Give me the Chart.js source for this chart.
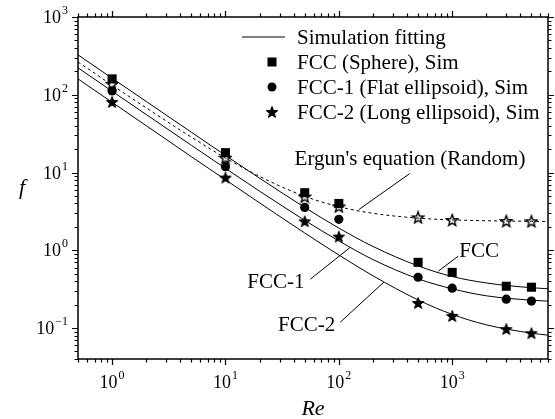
<!DOCTYPE html>
<html>
<head>
<meta charset="utf-8">
<script src="https://cdn.jsdelivr.net/npm/chart.js@4.4.1/dist/chart.umd.min.js"></script>
<style>
  html, body { margin: 0; padding: 0; background: #fff; }
  #wrap { width: 555px; height: 419px; }
</style>
</head>
<body>
<div id="wrap"><canvas id="chart" width="555" height="419"></canvas></div>
<script>
// Re values of the simulation points
const simRe = [1, 10, 50, 100, 500, 1000, 3000, 5000];
const fccSim = [160, 18, 5.5, 4.0, 0.70, 0.52, 0.345, 0.335];
const fcc1Sim = [112, 11.9, 3.56, 2.5, 0.45, 0.326, 0.235, 0.222];
const fcc2Sim = [81, 8.6, 2.36, 1.5, 0.21, 0.143, 0.097, 0.086];
const ergunPts = [138, 15.5, 4.9, 3.66, 2.65, 2.45, 2.38, 2.36];

// fitted curves
const fitRe = [0.5, 1, 2, 5, 10, 20, 50, 100, 200, 500, 1000, 2000, 5000, 7000];
const fccFit = [326, 163, 82, 33, 16.6, 8.45, 3.56, 1.93, 1.12, 0.63, 0.46, 0.38, 0.33, 0.32];
const fcc1Fit = [222, 111, 55.7, 22.4, 11.3, 5.76, 2.43, 1.32, 0.76, 0.43, 0.32, 0.26, 0.228, 0.222];
const fcc2Fit = [160, 80, 40, 16, 8.07, 4.07, 1.67, 0.87, 0.47, 0.23, 0.15, 0.11, 0.086, 0.081];
const ergunFit = [264, 133, 67.8, 28.5, 15.4, 8.9, 4.95, 3.64, 2.99, 2.59, 2.46, 2.40, 2.36, 2.35];

// axis ranges and decade labels
const xRange = [0.5, 7000];
const yRange = [0.04, 1000];
const xDecades = [0, 1, 2, 3];
const yDecades = [-1, 0, 1, 2, 3];

const legendItems = ['Simulation fitting', 'FCC (Sphere), Sim', 'FCC-1 (Flat ellipsoid), Sim', 'FCC-2 (Long ellipsoid), Sim'];

// curve labels: text, text anchor [Re, f], leader from [Re, f] to [Re, f]
const curveLabels = [
  { text: "Ergun's equation (Random)", at: [40.7, 14.7], align: 'left', from: [422, 9.7], to: [151, 3.36] },
  { text: 'FCC', at: [1153, 0.97], align: 'left', from: [1130, 0.84], to: [755, 0.54] },
  { text: 'FCC-1', at: [49.8, 0.39], align: 'right', from: [56, 0.425], to: [126, 1.09] },
  { text: 'FCC-2', at: [93, 0.109], align: 'right', from: [103, 0.119], to: [250, 0.39] }
];

const FONT = "'Liberation Serif', 'Times New Roman', serif";

function makeStar(size, fill, lw) {
  const c = document.createElement('canvas');
  c.width = c.height = size;
  const g = c.getContext('2d');
  const cx = size / 2, cy = size / 2 + size * 0.04;
  const R = size / 2 - 1, r = R * 0.42;
  g.beginPath();
  for (let i = 0; i < 10; i++) {
    const a = -Math.PI / 2 + i * Math.PI / 5;
    const rad = i % 2 ? r : R;
    g.lineTo(cx + rad * Math.cos(a), cy + rad * Math.sin(a));
  }
  g.closePath();
  g.fillStyle = fill;
  g.fill();
  g.strokeStyle = '#000';
  g.lineWidth = lw;
  g.lineJoin = 'miter';
  g.stroke();
  return c;
}

const starFilled = makeStar(14, '#000', 1);
const starHollow = makeStar(14, '#fff', 1.4);

const pts = (xs, ys) => xs.map((x, i) => ({ x: x, y: ys[i] }));

function fitSet(ys, dash) {
  return {
    data: pts(fitRe, ys),
    showLine: true,
    borderColor: '#000',
    borderWidth: 1,
    borderDash: dash || [],
    pointRadius: 0,
    cubicInterpolationMode: 'monotone'
  };
}

function simSet(ys, style, radius) {
  return {
    data: pts(simRe, ys),
    showLine: false,
    pointStyle: style,
    pointRadius: radius,
    backgroundColor: '#000',
    borderColor: '#000',
    borderWidth: 0
  };
}

// frame, ticks, labels, legend and curve annotations
const decorPlugin = {
  id: 'decor',
  afterDraw(chart) {
    const ctx = chart.ctx;
    const a = chart.chartArea;
    const xs = chart.scales.x, ys = chart.scales.y;
    ctx.save();
    ctx.strokeStyle = '#000';
    ctx.fillStyle = '#000';

    // frame
    ctx.lineWidth = 1.5;
    ctx.strokeRect(a.left, a.top, a.right - a.left, a.bottom - a.top);

    // minor / major ticks, outward on all sides
    ctx.lineWidth = 1.2;
    ctx.beginPath();
    for (let k = -2; k <= 4; k++) {
      for (let m = 1; m <= 9; m++) {
        const v = m * Math.pow(10, k);
        const len = m === 1 ? 6 : 3.5;
        if (v >= xRange[0] && v <= xRange[1]) {
          const px = Math.round(xs.getPixelForValue(v)) + 0.5;
          ctx.moveTo(px, a.bottom); ctx.lineTo(px, a.bottom + len);
          ctx.moveTo(px, a.top); ctx.lineTo(px, a.top - len);
        }
        if (v >= yRange[0] && v <= yRange[1]) {
          const py = Math.round(ys.getPixelForValue(v)) + 0.5;
          ctx.moveTo(a.left, py); ctx.lineTo(a.left - len, py);
          ctx.moveTo(a.right, py); ctx.lineTo(a.right + len, py);
        }
      }
    }
    ctx.stroke();

    // tick labels 10^n
    const big = '18px ' + FONT, small = '12px ' + FONT;
    const drawPow = (exp, x, y, align) => {
      ctx.font = big;
      const wb = ctx.measureText('10').width;
      ctx.font = small;
      const es = String(exp).replace('-', '\u2212');
      const we = ctx.measureText(es).width;
      const total = wb + we + 1;
      let x0 = align === 'center' ? x - total / 2 : x - total;
      ctx.textAlign = 'left';
      ctx.textBaseline = 'alphabetic';
      ctx.font = big;
      ctx.fillText('10', x0, y);
      ctx.font = small;
      ctx.fillText(es, x0 + wb + 1, y - 9);
    };
    xDecades.forEach(d => drawPow(d, xs.getPixelForValue(Math.pow(10, d)), a.bottom + 29, 'center'));
    yDecades.forEach(d => drawPow(d, a.left - 10, ys.getPixelForValue(Math.pow(10, d)) + 6, 'right'));

    // axis titles
    ctx.font = 'italic 22px ' + FONT;
    ctx.textAlign = 'center';
    ctx.textBaseline = 'middle';
    ctx.fillText('f', 22, (a.top + a.bottom) / 2);
    ctx.fillText('Re', (a.left + a.right) / 2, a.bottom + 50);

    // legend
    const lx = a.left + 194, ly = a.top + 20, step = 25;
    ctx.lineWidth = 1;
    ctx.beginPath();
    ctx.moveTo(lx - 30, ly); ctx.lineTo(lx + 13, ly);
    ctx.stroke();
    ctx.fillRect(lx - 4.5, ly + step - 4.5, 9, 9);
    ctx.beginPath();
    ctx.arc(lx, ly + 2 * step, 4.5, 0, Math.PI * 2);
    ctx.fill();
    ctx.drawImage(starFilled, lx - 7, ly + 3 * step - 7);
    ctx.font = '21px ' + FONT;
    ctx.textAlign = 'left';
    ctx.textBaseline = 'middle';
    legendItems.forEach((t, i) => ctx.fillText(t, lx + 25, ly + i * step + 1));

    // curve labels with leader lines
    curveLabels.forEach(c => {
      ctx.textAlign = c.align;
      ctx.fillText(c.text, xs.getPixelForValue(c.at[0]), ys.getPixelForValue(c.at[1]));
      ctx.beginPath();
      ctx.moveTo(xs.getPixelForValue(c.from[0]), ys.getPixelForValue(c.from[1]));
      ctx.lineTo(xs.getPixelForValue(c.to[0]), ys.getPixelForValue(c.to[1]));
      ctx.stroke();
    });
    ctx.restore();
  }
};

new Chart(document.getElementById('chart'), {
  type: 'scatter',
  data: {
    datasets: [
      fitSet(fccFit),
      fitSet(fcc1Fit),
      fitSet(fcc2Fit),
      fitSet(ergunFit, [3, 3]),
      simSet(fccSim, 'rect', 6.4),
      simSet(fcc1Sim, 'circle', 4.6),
      simSet(fcc2Sim, starFilled, 7),
      simSet(ergunPts, starHollow, 7)
    ]
  },
  options: {
    responsive: false,
    animation: false,
    layout: { padding: { left: 78, top: 17, right: 3, bottom: 60 } },
    plugins: { legend: { display: false }, tooltip: { enabled: false } },
    scales: {
      x: { type: 'logarithmic', min: xRange[0], max: xRange[1], display: false },
      y: { type: 'logarithmic', min: yRange[0], max: yRange[1], display: false }
    }
  },
  plugins: [decorPlugin]
});
</script>
</body>
</html>
